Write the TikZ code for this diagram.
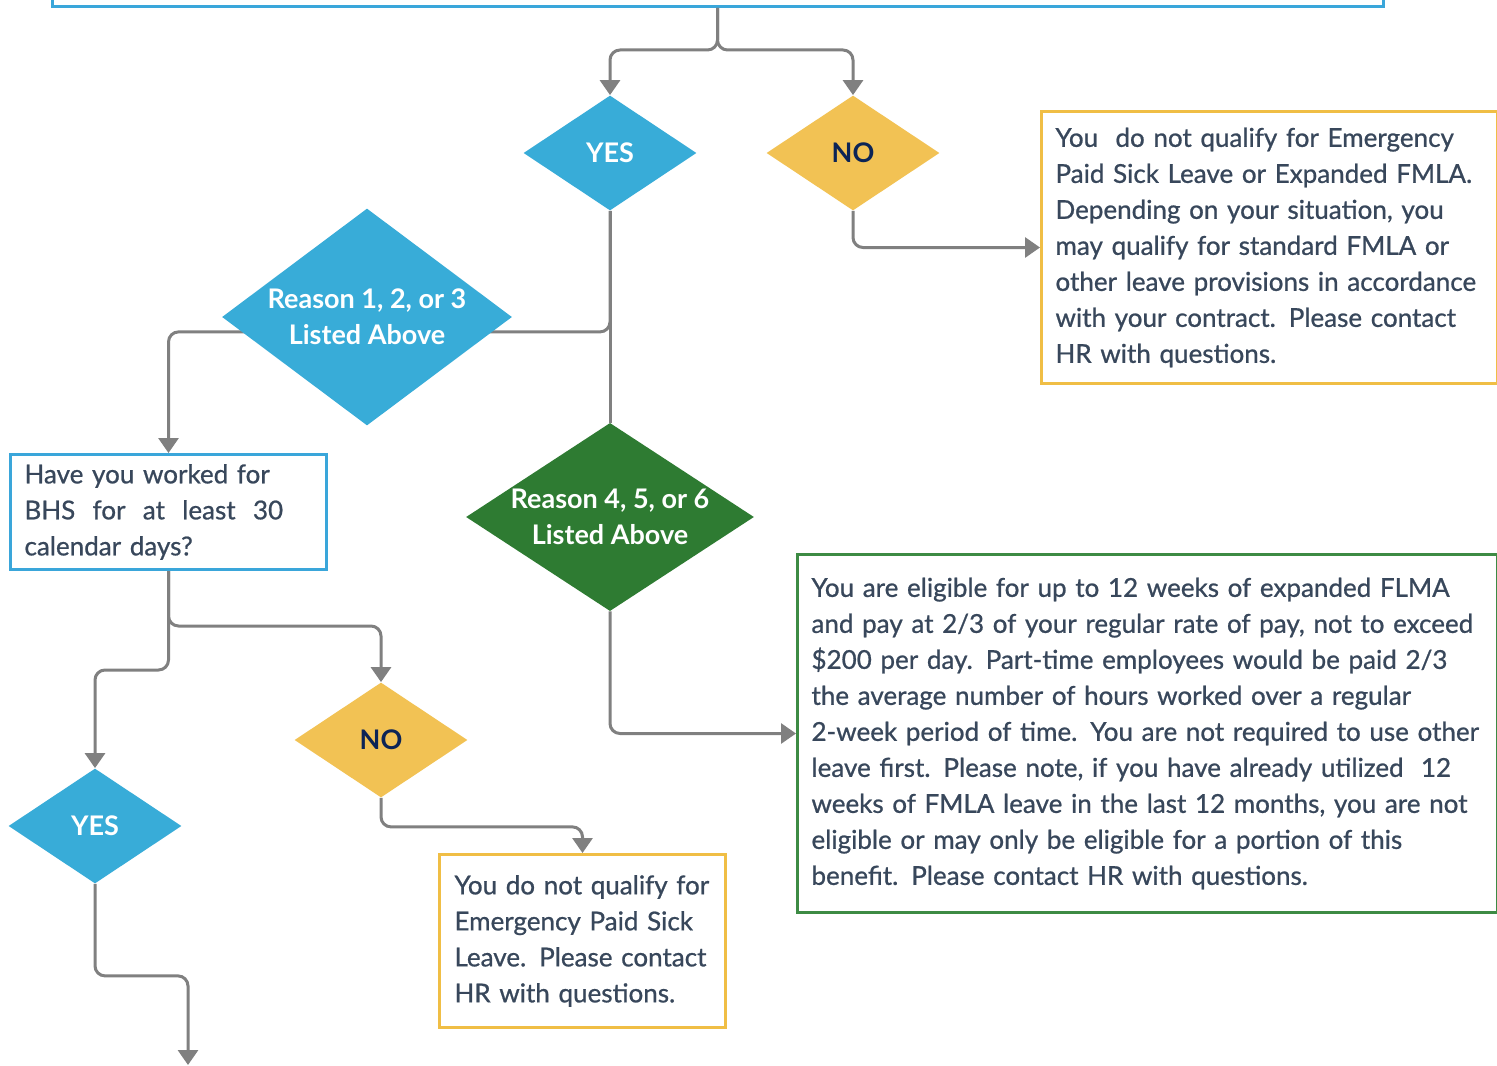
\documentclass[tikz,border=0pt]{standalone}
\usepackage{fontspec}
\setmainfont{Lato}
\newfontfamily\boxfont{Lato}[FakeBold=0.8]
\usetikzlibrary{shapes.geometric,arrows.meta}
\definecolor{diablue}{HTML}{38ACD8}
\definecolor{diayellow}{HTML}{F2C254}
\definecolor{diagreen}{HTML}{2E7B32}
\definecolor{boxblue}{HTML}{3AA6DA}
\definecolor{boxyellow}{HTML}{F0BE45}
\definecolor{boxgreen}{HTML}{3D8B44}
\definecolor{linkgray}{HTML}{808080}
\definecolor{boxtext}{HTML}{38475B}
\definecolor{notext}{HTML}{0C2456}

\begin{document}
\begin{tikzpicture}[x=0.5pt,y=-0.5pt,
    every node/.style={font=\fontsize{13pt}{18pt}\selectfont},
    dia/.style={diamond,aspect=1.5,inner sep=0pt,align=center,
        font=\fontsize{13.5pt}{18pt}\selectfont\bfseries},
    yesdia/.style={dia,fill=diablue,text=white,minimum width=86.5pt,minimum height=57.5pt},
    nodia/.style={dia,fill=diayellow,text=notext,minimum width=86.5pt,minimum height=57.5pt},
    infobox/.style={draw,line width=1.5pt,text=boxtext,align=left,anchor=north west,
        inner xsep=7pt,inner ysep=2pt,font=\boxfont\fontsize{13pt}{18pt}\selectfont},
    link/.style={draw=linkgray,line width=1.5pt,rounded corners=5pt,
        -{Triangle[width=10pt,length=7.5pt]}}]
    \useasboundingbox (0,0) rectangle (1497,1065);
    \clip (0,0) rectangle (1497,1065);
    \fill[white] (0,0) rectangle (1497,1065);

    \node[draw=boxblue,line width=1.5pt,minimum width=665.5pt,minimum height=30pt,anchor=south]
        (top) at (717.5,8) {};
    \node[yesdia] (yes1) at (610,153) {YES};
    \node[nodia] (no1) at (853,153) {NO};
    \node[infobox,draw=boxyellow,minimum width=228pt,minimum height=136pt,text width=214pt]
        (nobox) at (1040,110) {You\ \ do not qualify for Emergency\\
        Paid Sick Leave or Expanded FMLA.\\
        Depending on your situation, you\\
        may qualify for standard FMLA or\\
        other leave provisions in accordance\\
        with your contract. Please contact\\
        HR with questions.};
    \node[infobox,draw=boxblue,minimum width=158pt,minimum height=57.5pt,text width=144pt]
        (hav) at (9,453) {Have you worked for\\
        BHS\ \ for\ \ at\ \ least\ \ 30\\
        calendar days?};
    \node[dia,fill=diagreen,text=white,minimum width=144pt,minimum height=91.5pt]
        (reas2) at (610,517) {Reason 4, 5, or 6\\Listed Above};
    \node[infobox,draw=boxgreen,minimum width=350pt,minimum height=179pt,text width=336pt]
        (gbox) at (796,553) {You are eligible for up to 12 weeks of expanded FLMA\\
        and pay at 2/3 of your regular rate of pay, not to exceed\\
        \$200 per day. Part-time employees would be paid 2/3\\
        the average number of hours worked over a regular\\
        2-week period of time. You are not required to use other\\
        leave first. Please note, if you have already utilized\ \ 12\\
        weeks of FMLA leave in the last 12 months, you are not\\
        eligible or may only be eligible for a portion of this\\
        benefit. Please contact HR with questions.};
    \node[nodia] (no2) at (381,740) {NO};
    \node[yesdia] (yes2) at (95,826) {YES};
    \node[infobox,draw=boxyellow,minimum width=143pt,minimum height=86.5pt,text width=128pt]
        (nobox2) at (438,853) {\makebox[\linewidth][s]{You do not qualify for}\\
        Emergency Paid Sick\\
        \makebox[\linewidth][s]{Leave. Please contact}\\
        HR with questions.};
    \coordinate (out) at (188,1065);

    \draw[link] (top.south) -- ++(0,42) -| (yes1.north);
    \draw[link] (top.south) -- ++(0,42) -| (no1.north);
    \draw[link] (no1.south) |- (nobox.west);
    \draw[link] (yes1.south) -- ++(0,121) -| (hav.north);
    \draw[link,-] (yes1.south) -- (reas2.north);
    \draw[link] (reas2.south) |- (gbox.west);
    \draw[link] (hav.south) -- ++(0,55) -| (no2.north);
    \draw[link] (hav.south) -- ++(0,99) -| (yes2.north);
    \draw[link] (no2.south) -- ++(0,29) -| (nobox2.north);
    \draw[link] (yes2.south) -- ++(0,92) -| (out);

    \node[dia,fill=diablue,text=white,minimum width=145pt,minimum height=108.5pt]
        (reas1) at (367,317) {Reason 1, 2, or 3\\Listed Above};
\end{tikzpicture}
\end{document}
